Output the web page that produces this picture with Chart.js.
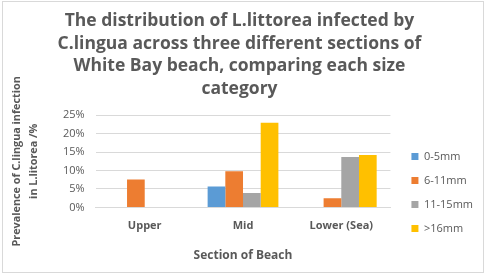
<!DOCTYPE html>
<html>
<head>
<meta charset="utf-8">
<script src="https://cdn.jsdelivr.net/npm/chart.js@4/dist/chart.umd.min.js"></script>
<style>
  html, body { margin: 0; padding: 0; background: #fff; }
  #wrap { position: relative; width: 485px; height: 274px; }
  #frame { position: absolute; left: 2px; top: 1px; width: 480px; height: 270px; border: 1px solid #d9d9d9; pointer-events: none; }
</style>
</head>
<body>
<div id="wrap">
  <canvas id="chart" width="485" height="274"></canvas>
  <div id="frame"></div>
</div>
<script>
const sections = ['Upper', 'Mid', 'Lower (Sea)'];
const sizeLabels = ['0-5mm', '6-11mm', '11-15mm', '>16mm'];
const size0to5 = [null, 5.7, null];
const size6to11 = [7.6, 9.8, 2.5];
const size11to15 = [null, 3.9, 13.7];
const size16plus = [null, 23.0, 14.2];
const yTicks = [0, 5, 10, 15, 20, 25];

const colors = ['#5B9BD5', '#ED7D31', '#A5A5A5', '#FFC000'];
const series = [size0to5, size6to11, size11to15, size16plus];
const textColor = '#595959';
const font = "'Open Sans', sans-serif";

// nudge the legend to sit where the original one is
const legendShift = {
  id: 'legendShift',
  afterLayout(chart) {
    const l = chart.legend;
    if (!l) return;
    l.top += 54; l.bottom += 54;
    l.left += 8; l.right += 8;
  }
};

new Chart(document.getElementById('chart'), {
  type: 'bar',
  data: {
    labels: sections,
    datasets: series.map((d, i) => ({
      label: sizeLabels[i],
      data: d,
      backgroundColor: colors[i],
      borderWidth: 0,
      categoryPercentage: 0.72,
      barPercentage: 1.0
    }))
  },
  options: {
    responsive: false,
    animation: false,
    layout: { padding: { left: 4, right: 10, top: 10, bottom: 7 } },
    plugins: {
      title: {
        display: true,
        text: ['The distribution of L.littorea infected by', 'C.lingua across three different sections of', 'White Bay beach, comparing each size', 'category'],
        color: textColor,
        font: { family: font, size: 17.5, weight: 'bold', lineHeight: 1.29 },
        padding: { top: 0, bottom: 15 }
      },
      legend: {
        position: 'right',
        labels: {
          color: textColor,
          font: { family: font, size: 11 },
          boxWidth: 7,
          boxHeight: 7,
          padding: 13
        }
      },
      tooltip: { enabled: false }
    },
    scales: {
      x: {
        grid: { display: false, drawTicks: false },
        border: { color: '#d9d9d9' },
        ticks: { color: textColor, font: { family: font, size: 11, weight: 'bold' }, padding: 12 },
        title: { display: true, text: 'Section of Beach', color: textColor, font: { family: font, size: 12, weight: 'bold' }, padding: { top: 4 } }
      },
      y: {
        min: 0,
        max: 25,
        afterBuildTicks(axis) { axis.ticks = yTicks.map(v => ({ value: v })); },
        grid: { color: '#d9d9d9', drawTicks: false },
        border: { display: false },
        ticks: { color: textColor, font: { family: font, size: 11 }, padding: 11, callback: v => v + '%' },
        title: { display: true, text: ['Prevalence of C.lingua infection', 'in L.litorea /%'], color: textColor, font: { family: font, size: 10.8, weight: 'bold', lineHeight: 1.57 }, padding: { top: 4, bottom: 10 } }
      }
    }
  },
  plugins: [legendShift]
});
</script>
</body>
</html>
